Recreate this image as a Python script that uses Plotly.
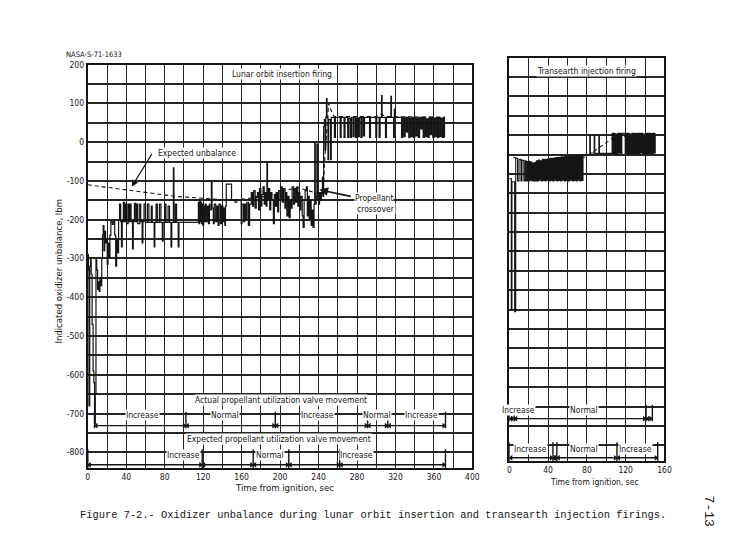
import plotly.graph_objects as go

# ---------------- data ----------------
# Lunar orbit insertion firing: indicated oxidizer unbalance (time s, lbm)
loi_samples = [
    (0, -290), (0.6, -330), (1.2, -680), (2.0, -320), (2.8, -300), (3.5, -340), (4.5, -470),
    (5.5, -590), (6.3, -620), (7.0, -725), (7.8, -650), (8.5, -300), (9.3, -330), (10.2, -380),
    (11.0, -360), (11.8, -385), (12.6, -350), (13.5, -370), (14.5, -300), (15.3, -240),
    (16.0, -215), (16.8, -280), (17.6, -230), (18.5, -260), (19.3, -250), (20.2, -315),
    (21.0, -260), (22.0, -300), (23.0, -240), (24.0, -205), (25.5, -212), (27.0, -205),
    (28.0, -240), (29.0, -320), (30.0, -250), (31.0, -285), (32.0, -200), (33.0, -160),
    (34.2, -205), (35.0, -270), (35.8, -205), (37.0, -155), (38.3, -205), (39.5, -160),
    (40.5, -210), (42.0, -160), (43.0, -205), (44.0, -160), (45.0, -205), (46.5, -275),
    (47.3, -205), (48.5, -158), (49.8, -205), (51.0, -160), (52.0, -210), (54.0, -160),
    (55.0, -205), (56.5, -260), (57.3, -205), (58.5, -160), (60.0, -207), (62.0, -160),
    (63.5, -207), (66.0, -165), (67.0, -207), (69.0, -270), (69.7, -207), (71.0, -160),
    (72.3, -207), (74.5, -160), (76.0, -207), (77.5, -255), (78.3, -207), (80.0, -160),
    (81.3, -207), (83.5, -165), (85.0, -207), (86.5, -270), (87.3, -207), (89.0, -66),
    (89.6, -207), (91.0, -160), (92.3, -207), (94.0, -270), (94.8, -207),
    (115.0, -155), (115.7, -210), (116.3, -150), (117.0, -205), (117.6, -155), (118.3, -210),
    (119.0, -160), (119.7, -215), (120.5, -165), (121.2, -205), (122.0, -160), (123.0, -205),
    (124.3, -165), (125.5, -210), (126.5, -160), (127.0, -175), (128.5, -100), (129.2, -170),
    (130.5, -210), (131.5, -160), (133.0, -205), (134.3, -165), (135.5, -215), (136.5, -160),
    (138.0, -210), (139.2, -165), (140.5, -205), (141.5, -170), (142.5, -215), (143.2, -165),
    (144.0, -108), (149.5, -150), (153.0, -155), (155.0, -150), (159.5, -210), (160.3, -160),
    (162.0, -205), (163.2, -160), (164.5, -200), (165.5, -155), (167.0, -215), (168.3, -160),
    (170.0, -130), (171.3, -165), (172.5, -125), (174.0, -170), (175.2, -140), (176.5, -130),
    (177.5, -175), (178.5, -120), (180.0, -165), (181.0, -135), (182.3, -115), (183.5, -160),
    (184.5, -130), (185.5, -165), (186.3, -50), (186.9, -150), (188.0, -120), (189.2, -175),
    (190.3, -130), (191.5, -150), (193.0, -210), (194.0, -135), (195.3, -165), (196.5, -130),
    (197.5, -180), (198.5, -125), (200.0, -150), (201.0, -115), (202.3, -155), (203.5, -120),
    (205.0, -170), (206.0, -130), (207.0, -190), (208.3, -140), (209.3, -195), (210.5, -150),
    (211.5, -170), (212.5, -115), (214.0, -160), (215.0, -120), (216.3, -155), (217.5, -115),
    (218.5, -165), (219.5, -130), (220.5, -175), (221.5, -140), (223.0, -190), (224.0, -220),
    (225.0, -150), (226.0, -125), (227.3, -115), (228.3, -190), (229.3, -140), (230.3, -200),
    (231.3, -150), (232.3, -215), (233.3, -175), (234.3, -220), (235.3, -160), (236.0, -2),
    (236.6, -160), (237.5, -140), (238.3, -5), (238.9, -150), (240.0, -160), (241.0, -130),
    (242.0, -150), (243.0, -130), (244.0, -90), (244.6, -140), (245.3, 40), (246.0, 58),
    (246.8, -20), (247.5, 64), (248.2, 112), (248.8, 64), (249.8, -45), (250.5, 58),
    (252.5, -45), (253.2, 64), (256.5, 12), (257.5, 64), (262.5, 12), (263.5, 64), (266.5, 12),
    (267.5, 64), (270.3, 12), (271.3, 62), (273.0, 12), (274.2, 64), (275.8, 14), (277.0, 64),
    (278.5, 12), (279.7, 62), (281.2, 14), (282.4, 64), (284.0, 12), (285.2, 64), (286.6, 16),
    (287.8, 64), (293.0, 12), (294.0, 64), (299.5, 12), (300.5, 64), (303.0, 12), (304.0, 64),
    (305.5, 120), (306.1, 64), (309.6, 12), (310.6, 64), (315.2, 118), (315.8, 64), (318.0, 12),
    (318.8, 85), (319.4, 64), (326.3, 12), (327.5, 64), (328.8, 14), (330.0, 64), (331.3, 26),
    (332.5, 64), (333.8, 12), (335.0, 62), (336.3, 14), (337.5, 64), (338.8, 12), (340.0, 64),
    (341.3, 16), (342.5, 62), (343.8, 12), (345.0, 64), (346.3, 34), (347.5, 64), (348.8, 12),
    (350.0, 64), (351.3, 14), (352.5, 60), (353.8, 12), (355.0, 64), (356.3, 19), (357.5, 64),
    (358.8, 12), (360.0, 62), (361.3, 14), (362.5, 64), (363.8, 12), (365.0, 64), (366.3, 14),
    (367.5, 62), (368.8, 12), (370.0, 64), (371.0, 12),
]

# Lunar orbit insertion: expected unbalance (dashed)
loi_expected_time = [0, 50, 92, 150, 185, 200, 218, 240, 244.5, 246.5, 248.5, 250.5, 253, 256, 300, 305, 310, 371]
loi_expected_lbm = [-110, -126, -140, -150, -140, -128, -117, -133, -137, -40, 40, 100, 82, 66, 66, 72, 66, 64]

# Transearth injection firing: indicated oxidizer unbalance (time s, lbm)
tei_samples = [
    (0, -112), (2.0, -450), (2.7, -120), (5.5, -455), (6.6, -60), (8.5, -118), (10.0, -62),
    (12.0, -118), (13.0, -65), (15.0, -118), (16.3, -66), (17.3, -118), (18.5, -68),
    (19.5, -118), (20.5, -68), (21.5, -116), (22.5, -70), (23.5, -118), (24.5, -72),
    (25.5, -118), (26.3, -70), (27.0, -118), (28.0, -66), (29.0, -118), (30.0, -64),
    (31.0, -116), (32.0, -66), (33.0, -118), (34.0, -62), (35.0, -117), (36.0, -63),
    (37.0, -118), (38.0, -62), (39.0, -116), (40.0, -61), (41.0, -118), (42.0, -60),
    (43.0, -117), (44.0, -60), (45.0, -118), (46.0, -59), (47.0, -116), (48.0, -58),
    (49.0, -118), (50.0, -58), (51.0, -117), (52.0, -57), (53.0, -118), (54.0, -56),
    (55.0, -116), (56.0, -56), (57.0, -118), (58.0, -55), (59.0, -117), (60.0, -55),
    (61.0, -118), (62.0, -54), (63.0, -116), (64.0, -54), (65.0, -118), (66.0, -53),
    (67.0, -117), (68.0, -52), (69.0, -118), (70.0, -52), (71.0, -116), (72.0, -51),
    (73.0, -118), (74.0, -50), (75.0, -117), (76.0, -50),
    (83.0, 0), (83.6, -46), (87.5, -2), (88.1, -47), (92.3, 0), (92.9, -47), (106.0, 5),
    (107.0, -48), (108.0, 5), (109.0, -48), (110.0, 3), (111.0, -48), (112.0, 5),
    (113.0, -46), (114.0, 5), (115.0, -48), (116.0, 5), (119.5, -48), (120.5, 5),
    (121.5, -48), (122.5, 5), (123.5, -48), (124.5, 3), (125.5, -48), (126.5, 5),
    (127.5, -47), (128.5, 5), (129.5, -48), (130.5, 4), (131.5, -48), (132.5, 5),
    (133.5, -48), (134.5, 5), (135.5, -46), (136.5, 5), (137.5, -48), (138.5, 3),
    (139.5, -48), (140.5, 5), (141.5, -48), (142.5, 5), (143.5, -47), (144.5, 5),
    (145.5, -48), (146.5, 4), (147.5, -48), (148.5, 5), (149.5, -46), (150.5, 5),
]

# Transearth injection: expected unbalance (dashed)
tei_expected_time = [4, 25, 79, 107, 150]
tei_expected_lbm = [-57, -76, -56, -7, 5]

# Propellant utilization valve movement bars
loi_actual_bounds = [7, 102, 195, 291, 312, 372]
loi_actual_labels = ["Increase", "Normal", "Increase", "Normal", "Increase"]
loi_actual_label_time = [57, 143, 239, 301, 347]
loi_expected_bounds = [0, 119, 172, 209, 262, 372]
loi_expected_labels = ["Increase", "Normal", "Increase"]
loi_expected_label_time = [100, 189, 279]

tei_actual_bounds = [0, 5, 141, 147.5]
tei_actual_labels = ["Increase", "Normal"]
tei_actual_label_time = [9, 77]
tei_expected_bounds = [0, 45, 49, 111, 153]
tei_expected_labels = ["Increase", "Normal", "Increase"]
tei_expected_label_time = [22, 77, 130]

loi_time_ticks = [0, 40, 80, 120, 160, 200, 240, 280, 320, 360, 400]
tei_time_ticks = [0, 40, 80, 120, 160]
unbalance_ticks = [200, 100, 0, -100, -200, -300, -400, -500, -600, -700, -800]

# ---------------- figure ----------------
W, H = 733, 548
NARROW = "Liberation Sans Narrow, DejaVu Sans Condensed, Arial Narrow, sans-serif"
MONO = "Liberation Mono, DejaVu Sans Mono, Courier New, monospace"
INK = "#151515"
K = 0.99  # small correction for the page capture


def fx(px):
    return px / (K * W)


def fy(py):
    return (H - py) / (K * H)


fig = go.Figure()

# main traces
fig.add_trace(go.Scatter(x=[s[0] for s in loi_samples], y=[s[1] for s in loi_samples],
                         mode="lines", line=dict(color=INK, width=1.2, shape="hv"),
                         xaxis="x", yaxis="y", hoverinfo="skip"))
fig.add_trace(go.Scatter(x=loi_expected_time, y=loi_expected_lbm, mode="lines",
                         line=dict(color=INK, width=1.1, dash="4px,3px"),
                         xaxis="x", yaxis="y", hoverinfo="skip"))
fig.add_trace(go.Scatter(x=[s[0] for s in tei_samples], y=[s[1] for s in tei_samples],
                         mode="lines", line=dict(color=INK, width=1.1, shape="hv"),
                         xaxis="x2", yaxis="y2", hoverinfo="skip"))
fig.add_trace(go.Scatter(x=tei_expected_time, y=tei_expected_lbm, mode="lines",
                         line=dict(color=INK, width=1.1, dash="4px,3px"),
                         xaxis="x2", yaxis="y2", hoverinfo="skip"))

annotations = []


def valve_row(bounds, labels, label_time, xa, ya, line_y, div_lo, div_hi, label_y):
    # arrow line + dividers
    xs, ys = [bounds[0], bounds[-1]], [line_y, line_y]
    for b in bounds:
        xs += [None, b, b]
        ys += [None, div_lo, div_hi]
    fig.add_trace(go.Scatter(x=xs, y=ys, mode="lines", line=dict(color=INK, width=1.4),
                             xaxis=xa, yaxis=ya, hoverinfo="skip"))
    # arrowheads pointing at each boundary
    lx, rx = [], []
    for a, b in zip(bounds[:-1], bounds[1:]):
        lx.append(a + 1.8)
        rx.append(b - 1.8)
    fig.add_trace(go.Scatter(x=lx, y=[line_y] * len(lx), mode="markers",
                             marker=dict(symbol="triangle-left", size=5, color=INK),
                             xaxis=xa, yaxis=ya, hoverinfo="skip"))
    fig.add_trace(go.Scatter(x=rx, y=[line_y] * len(rx), mode="markers",
                             marker=dict(symbol="triangle-right", size=5, color=INK),
                             xaxis=xa, yaxis=ya, hoverinfo="skip"))
    for lab, t in zip(labels, label_time):
        annotations.append(dict(x=t, y=label_y, xref=xa, yref=ya, text=lab, showarrow=False,
                                font=dict(family=NARROW, size=8.5, color=INK),
                                bgcolor="white", borderpad=0))


valve_row(loi_actual_bounds, loi_actual_labels, loi_actual_label_time, "x", "y", -731, -695, -738, -704)
valve_row(loi_expected_bounds, loi_expected_labels, loi_expected_label_time, "x", "y", -832, -792, -840, -806)
valve_row(tei_actual_bounds, tei_actual_labels, tei_actual_label_time, "x2", "y2", -731, -695, -738, -708)
valve_row(tei_expected_bounds, tei_expected_labels, tei_expected_label_time, "x2", "y2", -832, -792, -840, -808)


def txt(px, py, s, size=8.5, family=NARROW, angle=0, xanchor="center", bg=None):
    d = dict(x=fx(px), y=fy(py), xref="paper", yref="paper", text=s, showarrow=False,
             textangle=angle, xanchor=xanchor, yanchor="middle",
             font=dict(family=family, size=size, color=INK))
    if bg:
        d.update(bgcolor=bg, borderpad=0)
    annotations.append(d)


txt(62, 55, "NASA-S-71-1633", size=7.5, xanchor="left")
txt(281, 74, "Lunar orbit insertion firing", size=8.5, bg="white")
txt(586, 71, "Transearth injection firing", size=8.5, bg="white")
txt(280, 400, "Actual propellant utilization valve movement", size=8.5, bg="white")
txt(278, 439, "Expected propellant utilization valve movement", size=8.5, bg="white")
txt(155, 153, "Expected unbalance", size=8.5, xanchor="left", bg="white")
txt(353, 198, "Propellant", size=8.5, xanchor="left", bg="white")
txt(355, 209, "crossover", size=8.5, xanchor="left", bg="white")
txt(57, 271, "Indicated oxidizer unbalance, lbm", size=9.5, angle=-90)
txt(283, 488, "Time from ignition, sec", size=9.5)
txt(594, 482, "Time from ignition, sec", size=8.5)
txt(372, 515, "Figure 7-2.- Oxidizer unbalance during lunar orbit insertion and transearth injection firings.",
    size=10.4, family=MONO)
txt(708, 511, "7-13", size=13, family=MONO, angle=90)

# leader arrows (head position in paper coords, tail offset in pixels)
annotations.append(dict(x=fx(130), y=fy(187), xref="paper", yref="paper", ax=21, ay=-34,
                        axref="pixel", ayref="pixel", text="", showarrow=True, arrowhead=2,
                        arrowsize=1.1, arrowwidth=1.2, arrowcolor=INK))
annotations.append(dict(x=fx(318), y=fy(190), xref="paper", yref="paper", ax=33, ay=7,
                        axref="pixel", ayref="pixel", text="", showarrow=True, arrowhead=2,
                        arrowsize=1.1, arrowwidth=1.6, arrowcolor=INK))

GRID = "#262626"
tick_font = dict(family=NARROW, size=8.5, color=INK)
common_x = dict(showline=True, mirror=True, linecolor=INK, linewidth=2, zeroline=False,
                showgrid=True, gridcolor=GRID, gridwidth=1.4, ticks="",
                tickfont=tick_font, fixedrange=True)
common_y = dict(showline=True, mirror=True, linecolor=INK, linewidth=2, zeroline=False,
                showgrid=True, gridcolor=GRID, gridwidth=1.8, ticks="",
                tickfont=tick_font, fixedrange=True)

fig.update_layout(
    width=W, height=H, margin=dict(l=0, r=0, t=0, b=0),
    paper_bgcolor="white", plot_bgcolor="white", showlegend=False,
    annotations=annotations,
    xaxis=dict(domain=[fx(86), fx(471.5)], range=[0, 400], anchor="y",
               tickmode="array", tickvals=loi_time_ticks, ticktext=[str(v) for v in loi_time_ticks],
               minor=dict(dtick=20, tick0=0, showgrid=True, gridcolor=GRID, gridwidth=1.4, ticks=""),
               **common_x),
    yaxis=dict(domain=[fy(468), fy(65)], range=[-840, 200], anchor="x",
               tickmode="array", tickvals=unbalance_ticks, ticktext=[str(v) for v in unbalance_ticks],
               minor=dict(dtick=50, tick0=0, showgrid=True, gridcolor=GRID, gridwidth=1.8, ticks=""),
               **common_y),
    xaxis2=dict(domain=[fx(508.5), fx(664)], range=[0, 160], anchor="y2",
                tickmode="array", tickvals=tei_time_ticks, ticktext=[str(v) for v in tei_time_ticks],
                minor=dict(dtick=20, tick0=0, showgrid=True, gridcolor=GRID, gridwidth=1.4, ticks=""),
                **common_x),
    yaxis2=dict(domain=[fy(461), fy(58)], range=[-840, 200], anchor="x2",
                tickmode="array", tickvals=unbalance_ticks, showticklabels=False,
                minor=dict(dtick=50, tick0=0, showgrid=True, gridcolor=GRID, gridwidth=1.8, ticks=""),
                **common_y),
)

fig.write_html("out.html", config={"displayModeBar": False},
               post_script="document.body.style.margin='0px';")
